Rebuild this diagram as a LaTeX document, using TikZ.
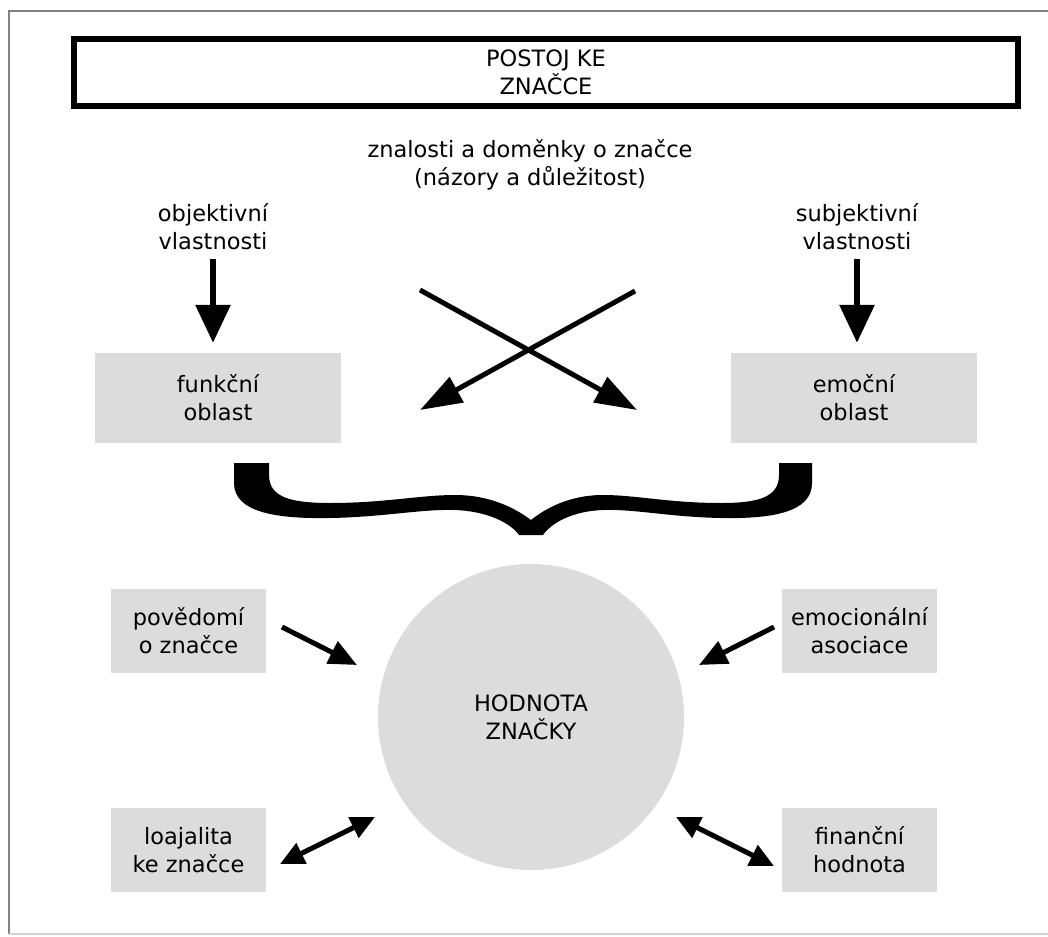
\documentclass[tikz,border=0pt]{standalone}
\usepackage{fontspec}
\setmainfont{DejaVu Sans}
\usetikzlibrary{positioning, arrows.meta, shapes.geometric}
\definecolor{panelGray}{RGB}{220,220,220}
\definecolor{frameGray}{RGB}{130,130,130}
\newcommand{\diagfont}{\fontsize{22.5}{28}\selectfont}
\tikzset{
	titlebox/.style={rectangle, draw=black, line width=6pt, minimum width=944pt,
		minimum height=67pt, align=center, font=\diagfont, inner sep=0pt},
	areabox/.style={rectangle, fill=panelGray, minimum width=246pt,
		minimum height=90pt, align=center, font=\diagfont},
	factorbox/.style={rectangle, fill=panelGray, minimum width=155pt,
		minimum height=84pt, align=center, font=\diagfont},
	plainlabel/.style={align=center, font=\diagfont, inner sep=0pt},
	downarr/.style={-{Triangle[length=38pt,width=34pt]}, line width=6pt},
	crossarr/.style={-{Triangle[length=42pt,width=28pt]}, line width=5pt},
	factorarr/.style={-{Triangle[length=28pt,width=24pt]}, line width=5pt},
	botharr/.style={{Triangle[length=24pt,width=22pt]}-{Triangle[length=24pt,width=22pt]}, line width=5pt}
}

\begin{document}
\begin{tikzpicture}[x=1pt, y=-1pt]
	\useasboundingbox (0,0) rectangle (1048,936);
	\draw[frameGray, line width=2pt] (9,934) |- (1060,11);
	\draw[frameGray!35, line width=2pt] (9,934) -- (1060,934);
	% top part
	\node[titlebox] (title) at (546,72.5) {POSTOJ KE\\ZNAČCE};
	\node[plainlabel] (know) at (530,165) {znalosti a doměnky o značce\\(názory a důležitost)};
	\node[plainlabel, anchor=north] (objv) at (213,203) {objektivní\\vlastnosti};
	\node[plainlabel, anchor=north] (subv) at (857,203) {subjektivní\\vlastnosti};
	\node[areabox] (funk) at (218,398) {funkční\\oblast};
	\node[areabox] (emoc) at (854,398) {emoční\\oblast};
	\draw[downarr, shorten <=9pt, shorten >=10pt] (objv.south) -- (objv.south |- funk.north);
	\draw[downarr, shorten <=9pt, shorten >=10pt] (subv.south) -- (subv.south |- emoc.north);
	\coordinate (crossA) at (420,290);
	\coordinate (crossB) at (637,410);
	\coordinate (crossC) at (635,291);
	\coordinate (crossD) at (420,410);
	\draw[crossarr] (crossA) -- (crossB);
	\draw[crossarr] (crossC) -- (crossD);
	% brace
	\fill (234,463) -- (234,483)
		.. controls (234,512) and (275,519) .. (330,518)
		.. controls (385,517) and (420,509) .. (455,510)
		.. controls (485,511) and (510,522) .. (519,535)
		-- (543,535)
		.. controls (552,522) and (574,511) .. (603,510)
		.. controls (636,509) and (669,517) .. (721,518)
		.. controls (773,519) and (812,512) .. (812,483)
		-- (812,463) -- (779,463) -- (779,475)
		.. controls (779,497) and (759,503) .. (721,503)
		.. controls (669,503) and (636,495) .. (603,495)
		.. controls (570,495) and (546,508) .. (531,520)
		.. controls (515,508) and (490,495) .. (455,495)
		.. controls (420,495) and (385,503) .. (330,503)
		.. controls (290,503) and (269,497) .. (269,475)
		-- (269,463) -- cycle;
	% brand value
	\node[circle, fill=panelGray, minimum size=306pt, align=center, font=\diagfont] (brandval) at (531,717) {HODNOTA\\ZNAČKY};
	\node[factorbox] (aware) at (188.5,631) {povědomí\\o značce};
	\node[factorbox] (assoc) at (859.5,631) {emocionální\\asociace};
	\node[factorbox] (loyal) at (188.5,850) {loajalita\\ke značce};
	\node[factorbox] (finval) at (859.5,850) {finanční\\hodnota};
	\coordinate (awareA) at (282,627);
	\coordinate (awareB) at (357,665);
	\coordinate (assocA) at (774,627);
	\coordinate (assocB) at (699,665);
	\coordinate (loyalA) at (280,864);
	\coordinate (loyalB) at (375,817);
	\coordinate (finA) at (676,817);
	\coordinate (finB) at (774,866);
	\draw[factorarr] (awareA) -- (awareB);
	\draw[factorarr] (assocA) -- (assocB);
	\draw[botharr] (loyalA) -- (loyalB);
	\draw[botharr] (finA) -- (finB);
\end{tikzpicture}
\end{document}
